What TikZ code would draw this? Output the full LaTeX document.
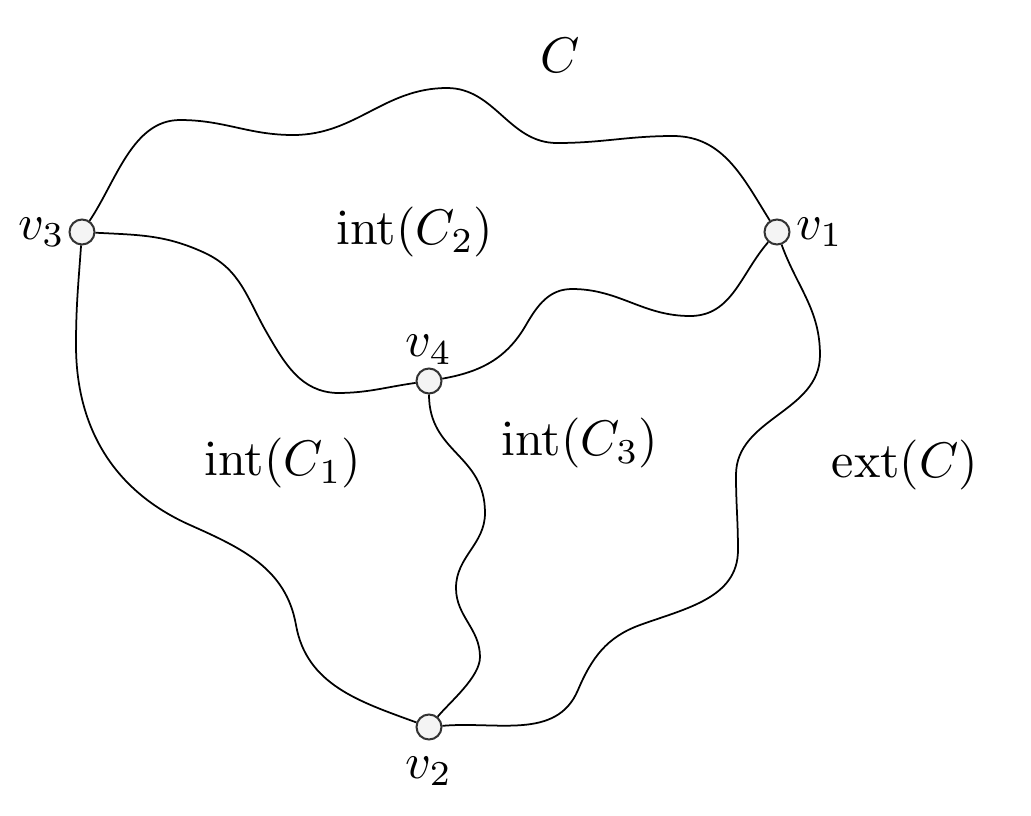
\documentclass[tikz,border=0pt]{standalone}
\usepackage{amsmath}
\usetikzlibrary{positioning}

\begin{document}
\begin{tikzpicture}[
    x=0.2pt, y=-0.2pt,
    vtx/.style={circle, draw=black!80, fill=gray!9, inner sep=0pt, minimum size=5pt},
    lbl/.style={inner sep=1pt},
    edge/.style={draw=black, line width=0.35pt}
  ]
    \useasboundingbox (0,0) rectangle (1031,816);
    % vertices
    \node[vtx] (v1) at (777,232) {};
    \node[vtx] (v2) at (429,727) {};
    \node[vtx] (v3) at (82,232) {};
    \node[vtx] (v4) at (429,381) {};
    \node[lbl, right=0pt of v1] (l1) {$v_1$};
    \node[lbl, below=2pt of v2] (l2) {$v_2$};
    \node[lbl, left=-0.5pt of v3] (l3) {$v_3$};
    \node[lbl, above=-0.5pt of v4] (l4) {$v_4$};
    % region labels
    \node (c) at (560,55) {$C$};
    \node (r2) at (415,232) {$\mathrm{int}(C_2)$};
    \node (r1) at (283,463) {$\mathrm{int}(C_1)$};
    \node (r3) at (580,443) {$\mathrm{int}(C_3)$};
    \node (ex) at (905,465) {$\mathrm{ext}(C)$};
    % outer cycle, top
    \draw[edge] (v3) to[out=56,in=180,looseness=0.9] (180,120)
      to[out=0,in=180] (293,135) to[out=0,in=180] (447,88)
      to[out=0,in=180] (557,143) to[out=0,in=180] (673,136)
      to[out=0,in=122] (v1);
    % v3 -- v4
    \draw[edge] (v3) to[out=-3,in=155] (205,253) to[out=-25,in=120] (267,333)
      to[out=-60,in=178] (337,393) to[out=0,in=188] (v4);
    % v4 -- v1
    \draw[edge] (v4) to[out=10,in=240] (526,325) to[out=60,in=180] (572,289)
      to[out=0,in=180] (690,316) to[out=0,in=229] (v1);
    % v3 -- v2
    \draw[edge] (v3) to[out=-94,in=90] (76,345) to[out=-90,in=156] (190,525)
      to[out=-24,in=100] (296,625) to[out=-80,in=160] (v2);
    % v4 -- v2
    \draw[edge] (v4) to[out=-90,in=90,looseness=1.15] (485,513)
      to[out=-90,in=90] (456,588) to[out=-90,in=90] (480,657)
      to[out=-90,in=50,looseness=0.7] (v2);
    % v1 -- v2
    \draw[edge] (v1) to[out=-70,in=90] (820,355) to[out=-90,in=90] (736,475)
      to[out=-90,in=90] (738,550) to[out=-90,in=20] (640,625)
      to[out=200,in=67] (578,690) to[out=-113,in=5] (v2);
  \end{tikzpicture}
\end{document}
